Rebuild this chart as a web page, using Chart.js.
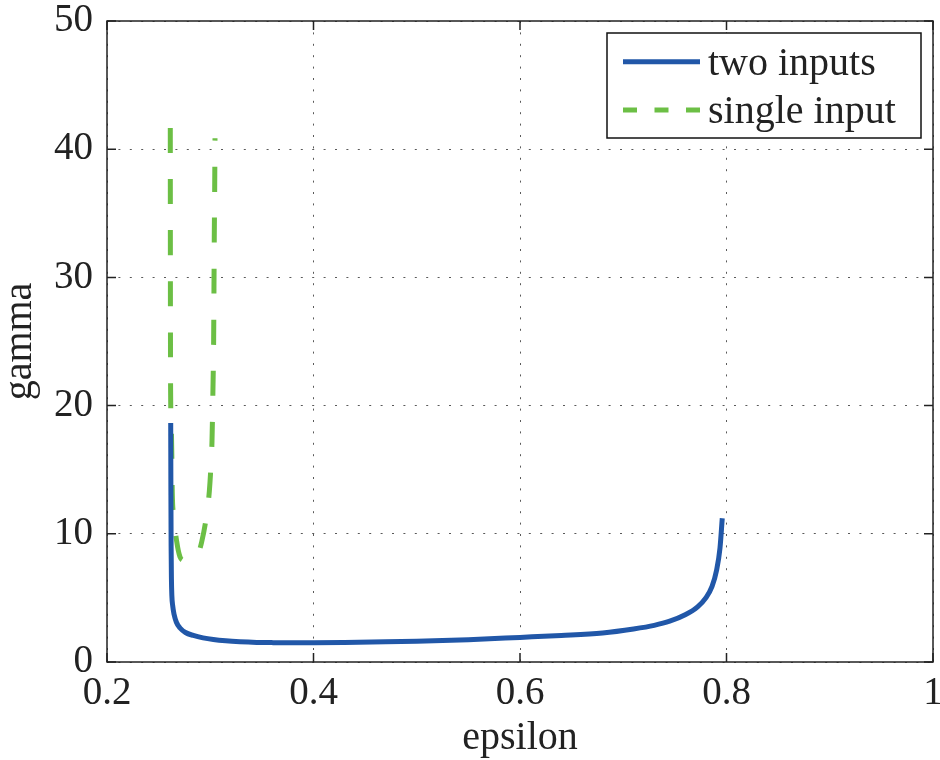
<!DOCTYPE html>
<html>
<head>
<meta charset="utf-8">
<script src="https://cdn.jsdelivr.net/npm/chart.js@4.4.1/dist/chart.umd.min.js"></script>
<style>
  html, body { margin: 0; padding: 0; background: #fff; }
  #wrap { width: 940px; height: 760px; }
</style>
</head>
<body>
<div id="wrap"><canvas id="myChart" width="940" height="760"></canvas></div>
<script>
// axis ticks
const xTicks = [0.2, 0.4, 0.6, 0.8, 1];
const yTicks = [0, 10, 20, 30, 40, 50];

// two inputs (solid blue)
const twoEps = [0.2617, 0.2619, 0.2621, 0.2624, 0.2628, 0.2636, 0.2650, 0.2672, 0.2707, 0.2760,
    0.2836, 0.2930, 0.3030, 0.3150, 0.3288, 0.3450, 0.3611, 0.3800, 0.4000, 0.4300,
    0.4700, 0.5000, 0.5500, 0.6000, 0.6400, 0.6800, 0.7100, 0.7300, 0.7450, 0.7600,
    0.7720, 0.7800, 0.7860, 0.7905, 0.7937, 0.7959];
const twoGamma = [18.64, 13.0, 9.0, 6.5, 5.2, 4.4, 3.7, 3.1, 2.65, 2.3,
    2.07, 1.88, 1.75, 1.65, 1.58, 1.53, 1.51, 1.50, 1.50, 1.52,
    1.57, 1.62, 1.74, 1.92, 2.07, 2.27, 2.58, 2.86, 3.18, 3.68,
    4.3, 5.0, 5.9, 7.2, 8.9, 11.21];

// single input (dashed green)
const singleEps = [0.2613, 0.2614, 0.2616, 0.2622, 0.2628, 0.2632, 0.2645, 0.2675, 0.2707, 0.2750,
    0.2790, 0.2840, 0.2884, 0.2917, 0.2960, 0.2991, 0.3008, 0.3017, 0.3026, 0.3033,
    0.3036, 0.3039, 0.3043, 0.3046];
const singleGamma = [41.65, 30.0, 21.2, 18.5, 16.0, 13.3, 11.5, 9.4, 8.2, 7.9,
    7.85, 8.0, 8.48, 9.36, 11.2, 13.3, 15.5, 17.25, 21.2, 25.2,
    29.1, 33.1, 37.0, 40.85];

const seriesLabels = ['two inputs', 'single input'];

const toPoints = (xs, ys) => xs.map((x, i) => ({ x: x, y: ys[i] }));

const serif = '"Liberation Serif", "Times New Roman", serif';

// box round the plot with inward ticks on all four sides
const frame = {
    id: 'frame',
    afterDraw(chart) {
        const { ctx, chartArea: a, scales } = chart;
        ctx.save();
        ctx.strokeStyle = '#222';
        ctx.lineWidth = 1.5;
        ctx.strokeRect(a.left, a.top, a.right - a.left, a.bottom - a.top);
        ctx.beginPath();
        xTicks.forEach(v => {
            const px = scales.x.getPixelForValue(v);
            ctx.moveTo(px, a.bottom); ctx.lineTo(px, a.bottom - 9);
            ctx.moveTo(px, a.top); ctx.lineTo(px, a.top + 9);
        });
        yTicks.forEach(v => {
            const py = scales.y.getPixelForValue(v);
            ctx.moveTo(a.left, py); ctx.lineTo(a.left + 9, py);
            ctx.moveTo(a.right, py); ctx.lineTo(a.right - 9, py);
        });
        ctx.stroke();
        ctx.restore();
    }
};

// legend with a border, top right inside the plot
const legendBox = {
    id: 'legendBox',
    afterDraw(chart) {
        const { ctx, chartArea: a } = chart;
        const x0 = a.right - 326, y0 = a.top + 12, w = 314, h = 105;
        ctx.save();
        ctx.fillStyle = '#fff';
        ctx.fillRect(x0, y0, w, h);
        ctx.strokeStyle = '#111';
        ctx.lineWidth = 1.5;
        ctx.strokeRect(x0, y0, w, h);
        chart.data.datasets.forEach((ds, i) => {
            const y = y0 + 28.7 + i * 48.3;
            ctx.beginPath();
            ctx.setLineDash(ds.borderDash ? [14, 17.5] : []);
            ctx.strokeStyle = ds.borderColor;
            ctx.lineWidth = 5;
            ctx.moveTo(x0 + 16, y);
            ctx.lineTo(x0 + 93, y);
            ctx.stroke();
            ctx.setLineDash([]);
            ctx.fillStyle = '#222';
            ctx.font = '40px ' + serif;
            ctx.textBaseline = 'alphabetic';
            ctx.fillText(ds.label, x0 + 101, y + 13);
        });
        ctx.restore();
    }
};

const ctx = document.getElementById('myChart').getContext('2d');
const myChart = new Chart(ctx, {
    type: 'scatter',
    data: {
        datasets: [{
            label: seriesLabels[0],
            data: toPoints(twoEps, twoGamma),
            showLine: true,
            borderColor: '#2157a8',
            borderWidth: 5,
            pointRadius: 0,
            cubicInterpolationMode: 'monotone',
            fill: false
        }, {
            label: seriesLabels[1],
            data: toPoints(singleEps, singleGamma),
            showLine: true,
            borderColor: '#6cbf45',
            borderWidth: 5,
            borderDash: [25, 26],
            borderCapStyle: 'butt',
            pointRadius: 0,
            cubicInterpolationMode: 'monotone',
            fill: false
        }]
    },
    options: {
        responsive: false,
        animation: false,
        layout: { padding: { left: 0, right: 7, top: 21, bottom: 0 } },
        plugins: {
            legend: { display: false },
            tooltip: { enabled: false }
        },
        scales: {
            x: {
                type: 'linear',
                min: 0.2,
                max: 1,
                afterBuildTicks: s => { s.ticks = xTicks.map(v => ({ value: v })); },
                afterFit: s => { s.height = 98; s.paddingLeft = 0; s.paddingRight = 0; },
                ticks: {
                    autoSkip: false,
                    maxRotation: 0,
                    padding: 8,
                    color: '#222',
                    font: { family: serif, size: 39 },
                    callback: v => String(v)
                },
                grid: {
                    drawTicks: false,
                    color: 'rgba(0,0,0,0.65)',
                    lineWidth: 1
                },
                border: { display: false, dash: [2, 9.4] },
                title: {
                    display: true,
                    text: 'epsilon',
                    color: '#222',
                    font: { family: serif, size: 40, lineHeight: 1 },
                    padding: { top: 0, bottom: 2 }
                }
            },
            y: {
                type: 'linear',
                min: 0,
                max: 50,
                afterBuildTicks: s => { s.ticks = yTicks.map(v => ({ value: v })); },
                afterFit: s => { s.width = 107; s.paddingTop = 0; s.paddingBottom = 0; },
                ticks: {
                    autoSkip: false,
                    padding: 14,
                    color: '#222',
                    font: { family: serif, size: 39 },
                    callback: v => String(v)
                },
                grid: {
                    drawTicks: false,
                    color: 'rgba(0,0,0,0.65)',
                    lineWidth: 1
                },
                border: { display: false, dash: [2, 9.4] },
                title: {
                    display: true,
                    text: 'gamma',
                    color: '#222',
                    font: { family: serif, size: 40, lineHeight: 1 },
                    padding: { top: 0, bottom: 0 }
                }
            }
        }
    },
    plugins: [frame, legendBox]
});
</script>
</body>
</html>
